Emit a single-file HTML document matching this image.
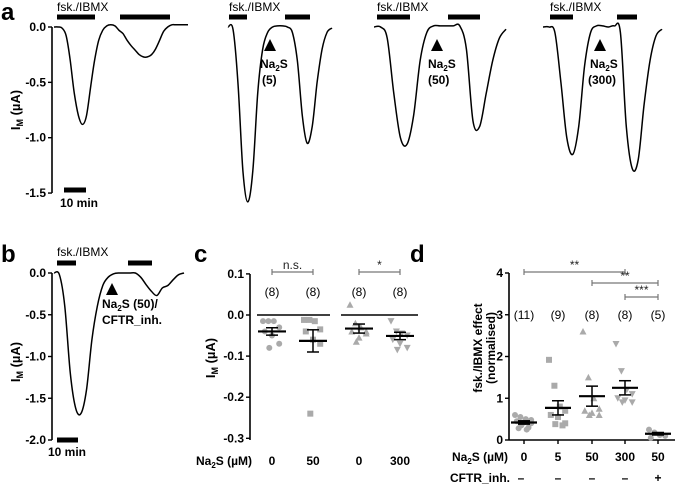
<!DOCTYPE html>
<html><head><meta charset="utf-8"><style>
body{margin:0;background:#fff;}
svg{display:block;font-family:"Liberation Sans",Arial,sans-serif;}
.b{font-weight:bold;}
</style></head><body>
<svg id="fig" width="675" height="486" viewBox="0 0 675 486" xmlns="http://www.w3.org/2000/svg">
<g id="static">
<text x="1" y="20" font-size="24" class="b">a</text>
<text x="1" y="262" font-size="24" class="b">b</text>
<text x="194" y="262" font-size="24" class="b">c</text>
<text x="410" y="262" font-size="24" class="b">d</text>
</g>
<g id="layer"></g>
</svg>
<script>
// ---- Panel a traces: current µA sampled evenly in time
const aTrace1V=[0,0,-0.01,-0.08,-0.3,-0.6,-0.8,-0.88,-0.8,-0.55,-0.3,-0.12,-0.03,0.01,0.02,0.01,-0.03,-0.06,-0.12,-0.17,-0.21,-0.25,-0.27,-0.27,-0.25,-0.2,-0.12,-0.04,0.0,0.02,0.02,0.02,0.02,0.02];
const aTrace2V=[0,-0.02,-0.5,-1.3,-1.58,-1.3,-0.6,-0.2,-0.05,0,0.01,0.01,0,-0.05,-0.3,-0.8,-1.05,-0.9,-0.5,-0.2,-0.05,-0.01];
const aTrace3V=[0,0,-0.1,-0.6,-1.0,-1.06,-0.8,-0.3,-0.05,0.01,0.01,0.01,0.01,0.01,-0.2,-0.85,-0.9,-0.6,-0.3,-0.1,-0.02];
const aTrace4V=[0,0,-0.05,-0.5,-1.0,-1.15,-0.9,-0.35,-0.05,0.01,0.01,0.0,0.01,-0.05,-0.9,-1.28,-1.2,-0.7,-0.3,-0.08,-0.02];
const aYTicks=[0.0,-0.5,-1.0,-1.5];
const aYTickLabels=["0.0","-0.5","-1.0","-1.5"];
// ---- Panel b trace
const bTraceV=[0,-0.02,-0.4,-1.2,-1.62,-1.68,-1.4,-0.8,-0.4,-0.15,-0.05,-0.01,0.0,0.0,0.0,0.0,-0.05,-0.14,-0.22,-0.27,-0.18,-0.15,-0.08,-0.02,0];
const bYTicks=[0.0,-0.5,-1.0,-1.5,-2.0];
const bYTickLabels=["0.0","-0.5","-1.0","-1.5","-2.0"];
// ---- Panel c data
const cCategories=["0","50","0","300"];
const cMeans=[-0.040,-0.063,-0.033,-0.051];
const cSEM=[0.009,0.027,0.011,0.009];
const cPoints=[
 [-0.015,-0.015,-0.015,-0.03,-0.04,-0.05,-0.07,-0.08],
 [-0.012,-0.012,-0.015,-0.035,-0.04,-0.06,-0.07,-0.24],
 [0.025,-0.02,-0.03,-0.04,-0.04,-0.055,-0.045,-0.065],
 [-0.015,-0.04,-0.045,-0.05,-0.06,-0.07,-0.08,-0.085]];
const cN=["(8)","(8)","(8)","(8)"];
const cYTicks=[0.1,0.0,-0.1,-0.2,-0.3];
const cYTickLabels=["0.1","0.0","-0.1","-0.2","-0.3"];
// ---- Panel d data
const dCategories=["0","5","50","300","50"];
const dCFTR=["–","–","–","–","+"];
const dMeans=[0.42,0.77,1.05,1.25,0.15];
const dSEM=[0.04,0.17,0.24,0.17,0.03];
const dPoints=[
 [0.6,0.55,0.5,0.48,0.45,0.42,0.4,0.35,0.3,0.28,0.25],
 [1.92,1.3,0.8,0.7,0.6,0.55,0.4,0.38,0.35],
 [2.6,1.5,1.0,0.75,0.7,0.65,0.6,0.6],
 [2.3,1.65,1.2,1.1,1.0,0.95,0.9,0.9],
 [0.25,0.18,0.12,0.1,0.05]];
const dN=["(11)","(9)","(8)","(8)","(5)"];
const dYTicks=[0,1,2,3,4];
const dYTickLabels=["0","1","2","3","4"];

const NS="http://www.w3.org/2000/svg";
const layer=document.getElementById('layer');
function el(tag,attrs,parent){const e=document.createElementNS(NS,tag);for(const k in attrs)e.setAttribute(k,attrs[k]);(parent||layer).appendChild(e);return e;}
function txt(x,y,s,size,anchor,bold,parent,fill){const t=el('text',{x:x,y:y,'font-size':size,'text-anchor':anchor||'start','fill':fill||'#000'},parent);if(bold)t.setAttribute('font-weight','bold');t.textContent=s;return t;}
function smooth(pts){let d='M'+pts[0][0]+','+pts[0][1];for(let i=0;i<pts.length-1;i++){const p0=pts[Math.max(0,i-1)],p1=pts[i],p2=pts[i+1],p3=pts[Math.min(pts.length-1,i+2)];const c1=[p1[0]+(p2[0]-p0[0])/6,p1[1]+(p2[1]-p0[1])/6],c2=[p2[0]-(p3[0]-p1[0])/6,p2[1]-(p3[1]-p1[1])/6];d+=' C'+c1[0].toFixed(1)+','+c1[1].toFixed(1)+' '+c2[0].toFixed(1)+','+c2[1].toFixed(1)+' '+p2[0]+','+p2[1];}return d;}
function na2s(x,y,tail,parent){const t=el('text',{x:x,y:y,'font-size':12,'font-weight':'bold'},parent);t.appendChild(document.createTextNode('Na'));const s=document.createElementNS(NS,'tspan');s.setAttribute('font-size','8');s.setAttribute('dy','3');s.textContent='2';t.appendChild(s);const r=document.createElementNS(NS,'tspan');r.setAttribute('dy','-3');r.textContent='S'+tail;t.appendChild(r);return t;}
function imLabel(x,y,parent,name){const g=el('g',{transform:'translate('+x+','+y+') rotate(-90)'},parent);


const t=el('text',{x:0,y:0,'font-size':13,'font-weight':'bold','text-anchor':'middle'},g);t.appendChild(document.createTextNode('I'));const s=document.createElementNS(NS,'tspan');s.setAttribute('font-size','9');s.setAttribute('dy','3');s.textContent='M';t.appendChild(s);const r=document.createElementNS(NS,'tspan');r.setAttribute('dy','-3');r.textContent=' (µA)';t.appendChild(r);}
function yAxis(parent,x,yScale,ticks,labels,y0,y1,name){const g=el('g',{},parent);


el('line',{x1:x,y1:y0,x2:x,y2:y1,stroke:'#000','stroke-width':1.6},g);
ticks.forEach((v,i)=>{const y=yScale(v);el('line',{x1:x-4,y1:y,x2:x,y2:y,stroke:'#000','stroke-width':1.4},g);txt(x-6,y+4,labels[i],12,'end',true,g);});}
function bar(parent,x1,x2,y,name){const r=el('rect',{x:x1,y:y-2.5,width:x2-x1,height:5,fill:'#000'},parent);

}
function tri(parent,x,y,name){const p=el('polygon',{points:(x-6)+','+(y+6)+' '+(x+6)+','+(y+6)+' '+x+','+(y-6),fill:'#000'},parent);

}

// ===== Panel a =====
const pa=el('g',{});


const aY=v=>27-v*110.7;
yAxis(pa,52,aY,aYTicks,aYTickLabels,27,193,'panel-a-y-axis');
imLabel(20,110,pa,'panel-a-y-title');
bar(pa,64,86,190,'scale-bar-a');
txt(60,207,'10 min',12,'start',true,pa);
function trace(parent,vals,x0,x1,yS,name){const n=vals.length;const pts=vals.map((v,i)=>[+(x0+(x1-x0)*i/(n-1)).toFixed(1),+yS(v).toFixed(1)]);const p=el('path',{d:smooth(pts),fill:'none',stroke:'#000','stroke-width':1.5},parent);

}
trace(pa,aTrace1V,54,188,aY,'trace-control');
trace(pa,aTrace2V,228,332,aY,'trace-na2s-5');
trace(pa,aTrace3V,374,506,aY,'trace-na2s-50');
trace(pa,aTrace4V,543,662,aY,'trace-na2s-300');
[[57,95],[120,170],[229,247],[285,310],[377,410],[448,480],[550,573],[617,637]].forEach((b,i)=>bar(pa,b[0],b[1],17,'fsk-ibmx-bar'));
[[57],[229],[377],[550]].forEach(p=>txt(p[0],11,'fsk./IBMX',12,'start',false,pa));
tri(pa,270,45,'na2s-arrow');tri(pa,437,45,'na2s-arrow');tri(pa,600,45,'na2s-arrow');
na2s(260,68,'',pa);txt(262,84,'(5)',12,'start',true,pa);
na2s(428,68,'',pa);txt(428,84,'(50)',12,'start',true,pa);
na2s(590,68,'',pa);txt(588,84,'(300)',12,'start',true,pa);

// ===== Panel b =====
const pb=el('g',{});


const bY=v=>273-v*83.5;
yAxis(pb,52,bY,bYTicks,bYTickLabels,273,440,'panel-b-y-axis');
imLabel(20,362,pb,'panel-b-y-title');
trace(pb,bTraceV,54,184,bY,'trace-cftr-inh');
bar(pb,57,76,263,'fsk-ibmx-bar');bar(pb,128,152,263,'fsk-ibmx-bar');
txt(57,256,'fsk./IBMX',12,'start',false,pb);
tri(pb,112,289,'na2s-arrow');
na2s(102,308,' (50)/',pb);txt(102,324,'CFTR_inh.',12,'start',true,pb);
bar(pb,57,78,440,'scale-bar-b');
txt(48,456,'10 min',12,'start',true,pb);

// ===== Panel c =====
const pc=el('g',{});


const cY=v=>315-v*411;
const cXpos=[272,313,359,400];
const cX=i=>cXpos[i];
yAxis(pc,250,cY,cYTicks,cYTickLabels,274,440,'panel-c-y-axis');
imLabel(215,358,pc,'panel-c-y-title');
el('line',{x1:257,y1:cY(0),x2:330,y2:cY(0),stroke:'#000','stroke-width':1.4},pc);
el('line',{x1:341,y1:cY(0),x2:418,y2:cY(0),stroke:'#000','stroke-width':1.4},pc);
function marker(parent,shape,x,y,c){if(shape===0)return el('circle',{cx:x,cy:y,r:3,fill:c},parent);if(shape===1)return el('rect',{x:x-3,y:y-3,width:6,height:6,fill:c},parent);if(shape===2)return el('polygon',{points:(x-3.5)+','+(y+3)+' '+(x+3.5)+','+(y+3)+' '+x+','+(y-3.5),fill:c},parent);return el('polygon',{points:(x-3.5)+','+(y-3)+' '+(x+3.5)+','+(y-3)+' '+x+','+(y+3.5),fill:c},parent);}
function scatterGroup(parent,pts,shape,cx,yS,mean,sem,name,w){const g=el('g',{},parent);


const offs=[-10,-4,2,8,-8,0,8,-3,5,-6,3];
pts.forEach((v,i)=>{marker(g,shape,cx+offs[i%offs.length]*0.9,yS(v),'#aaa');});
const my=yS(mean);el('line',{x1:cx-w,y1:my,x2:cx+w,y2:my,stroke:'#000','stroke-width':2.2},g);
el('line',{x1:cx,y1:yS(mean+sem),x2:cx,y2:yS(mean-sem),stroke:'#000','stroke-width':1.5},g);
el('line',{x1:cx-6,y1:yS(mean+sem),x2:cx+6,y2:yS(mean+sem),stroke:'#000','stroke-width':1.5},g);
el('line',{x1:cx-6,y1:yS(mean-sem),x2:cx+6,y2:yS(mean-sem),stroke:'#000','stroke-width':1.5},g);}
cPoints.forEach((pts,i)=>scatterGroup(pc,pts,i,cX(i),cY,cMeans[i],cSEM[i],'group-c-'+i,14));
cN.forEach((s,i)=>txt(cX(i),296,s,12,'middle',false,pc));
na2s(196,465,' (µM)',pc);
cCategories.forEach((s,i)=>txt(cX(i),465,s,12,'middle',true,pc));
function bracket(parent,x1,x2,y,label,name){const g=el('g',{},parent);


el('line',{x1:x1,y1:y,x2:x2,y2:y,stroke:'#777','stroke-width':1.2},g);el('line',{x1:x1,y1:y-3,x2:x1,y2:y+3,stroke:'#777','stroke-width':1.2},g);el('line',{x1:x2,y1:y-3,x2:x2,y2:y+3,stroke:'#777','stroke-width':1.2},g);
txt((x1+x2)/2,y-3,label,12,'middle',false,g,'#222');}
bracket(pc,cX(0),cX(1),272,'n.s.','bracket-ns');
bracket(pc,cX(2),cX(3),272,'*','bracket-star');

// ===== Panel d =====
const pd=el('g',{});


const dY=v=>440-v*41.75;
const dXpos=[524,558,592,625,658];
const dX=i=>dXpos[i];
yAxis(pd,509,dY,dYTicks,dYTickLabels,273,440,'panel-d-y-axis');
el('line',{x1:509,y1:440,x2:675,y2:440,stroke:'#000','stroke-width':1.6},pd);
dXpos.forEach(x=>el('line',{x1:x,y1:440,x2:x,y2:444,stroke:'#000','stroke-width':1.4},pd));
const dl=el('g',{transform:'translate(484,348) rotate(-90)'},pd);


txt(0,-2,'fsk./IBMX effect',12,'middle',true,dl);txt(0,11,'(normalised)',12,'middle',true,dl);
const dShapes=[0,1,2,3,0];
dPoints.forEach((pts,i)=>scatterGroup(pd,pts,dShapes[i],dX(i),dY,dMeans[i],dSEM[i],'group-d-'+i,13));
dN.forEach((s,i)=>txt(dX(i),319,s,12,'middle',false,pd));
na2s(452,461,' (µM)',pd);
dCategories.forEach((s,i)=>txt(dX(i),461,s,12,'middle',true,pd));
txt(450,482,'CFTR_inh.',12,'start',true,pd);
txt(521,482,'–',12,'middle',true,pd);
dCFTR.forEach((s,i)=>{if(i>0)txt(dX(i),482,s,12,'middle',true,pd);});
bracket(pd,dX(0),dX(3),272,'**','bracket-d-1');
bracket(pd,dX(2),dX(4),283,'**','bracket-d-2');
bracket(pd,dX(3),dX(4),297,'***','bracket-d-3');
</script>
</body></html>
